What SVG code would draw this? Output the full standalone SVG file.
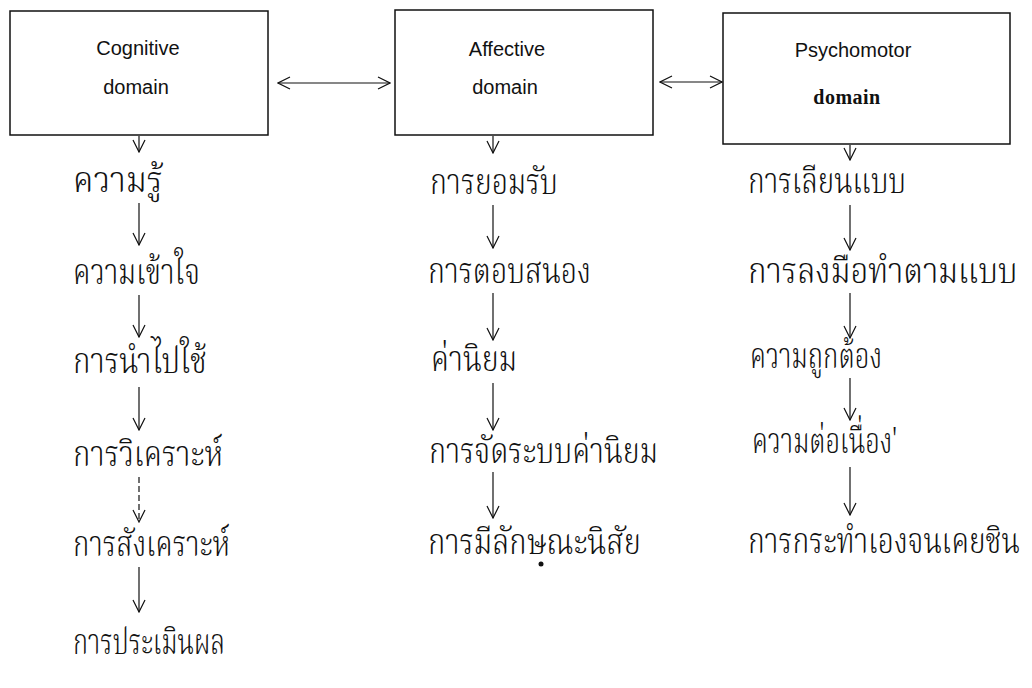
<svg xmlns="http://www.w3.org/2000/svg" width="1032" height="688" viewBox="0 0 1032 688">
<style>
.box{fill:#fff;stroke:#111;stroke-width:1.5}
.en{font-family:'Liberation Sans',Arial,sans-serif;font-size:20px;fill:#111;text-anchor:middle}
.enb{font-family:'Liberation Serif','Times New Roman',serif;font-size:20px;font-weight:bold;fill:#111;text-anchor:middle;letter-spacing:0.5px}
.th{font-family:'Noto Serif Thai','Noto Sans Thai','Norasi','Garuda','Loma','Liberation Serif',serif;font-size:36px;font-weight:300;fill:#111}
.ln{fill:none;stroke:#111;stroke-width:1.2}
</style>
<defs>
<marker id="ah" viewBox="0 0 14 14" refX="13" refY="7" markerWidth="14" markerHeight="14" markerUnits="userSpaceOnUse" orient="auto-start-reverse">
<path d="M1,1 L13,7 L1,13" fill="none" stroke="#111" stroke-width="1.2"/>
</marker>
</defs>
<rect width="1032" height="688" fill="#fff"/>
<g id="node-cognitive">
<rect class="box" x="10" y="11" width="258" height="124"/>
<text class="en" x="138" y="55">Cognitive</text>
<text class="en" x="136" y="94">domain</text>
</g>
<g id="node-affective">
<rect class="box" x="395" y="10" width="258" height="125"/>
<text class="en" x="507" y="56">Affective</text>
<text class="en" x="505" y="94">domain</text>
</g>
<g id="node-psychomotor">
<rect class="box" x="723" y="13" width="287" height="131"/>
<text class="en" x="853" y="57">Psychomotor</text>
<text class="enb" x="847" y="104">domain</text>
</g>
<g id="col-cognitive">
<text class="th" x="73" y="192" textLength="90" lengthAdjust="spacingAndGlyphs">ความรู้</text>
<text class="th" x="73" y="284" textLength="127" lengthAdjust="spacingAndGlyphs">ความเข้าใจ</text>
<text class="th" x="73" y="373" textLength="134" lengthAdjust="spacingAndGlyphs">การนำไปใช้</text>
<text class="th" x="73" y="466" textLength="150" lengthAdjust="spacingAndGlyphs">การวิเคราะห์</text>
<text class="th" x="73" y="556" textLength="157" lengthAdjust="spacingAndGlyphs">การสังเคราะห์</text>
<text class="th" x="73" y="654" textLength="152" lengthAdjust="spacingAndGlyphs">การประเมินผล</text>
</g>
<g id="col-affective">
<text class="th" x="430" y="194" textLength="128" lengthAdjust="spacingAndGlyphs">การยอมรับ</text>
<text class="th" x="428" y="283" textLength="163" lengthAdjust="spacingAndGlyphs">การตอบสนอง</text>
<text class="th" x="431" y="371" textLength="86" lengthAdjust="spacingAndGlyphs">ค่านิยม</text>
<text class="th" x="429" y="463" textLength="229" lengthAdjust="spacingAndGlyphs">การจัดระบบค่านิยม</text>
<text class="th" x="428" y="554" textLength="213" lengthAdjust="spacingAndGlyphs">การมีลักษณะนิสัย</text>
<circle cx="541" cy="564" r="2.5" fill="#111"/>
</g>
<g id="col-psychomotor">
<text class="th" x="748" y="193" textLength="158" lengthAdjust="spacingAndGlyphs">การเลียนแบบ</text>
<text class="th" transform="translate(748,283) scale(0.8,1)" x="0" y="0" textLength="337" lengthAdjust="spacingAndGlyphs">การลงมือทำตามแบบ</text>
<text class="th" x="750" y="368" textLength="132" lengthAdjust="spacingAndGlyphs">ความถูกต้อง</text>
<text class="th" x="752" y="453" textLength="145" lengthAdjust="spacingAndGlyphs">ความต่อเนื่อง'</text>
<text class="th" transform="translate(748,553) scale(0.8,1)" x="0" y="0" textLength="340" lengthAdjust="spacingAndGlyphs">การกระทำเองจนเคยชิน</text>
</g>
<g id="connectors">
<line class="ln" x1="278" y1="83" x2="390" y2="83" marker-start="url(#ah)" marker-end="url(#ah)"/>
<line class="ln" x1="660" y1="82" x2="722" y2="82" marker-start="url(#ah)" marker-end="url(#ah)"/>
<line class="ln" x1="139" y1="136" x2="139" y2="152" marker-end="url(#ah)"/>
<line class="ln" x1="139" y1="203" x2="139" y2="245" marker-end="url(#ah)"/>
<line class="ln" x1="139" y1="295" x2="139" y2="337" marker-end="url(#ah)"/>
<line class="ln" x1="139" y1="387" x2="139" y2="430" marker-end="url(#ah)"/>
<line class="ln" x1="139" y1="477" x2="139" y2="522" marker-end="url(#ah)" stroke-dasharray="6 3"/>
<line class="ln" x1="139" y1="567" x2="139" y2="612" marker-end="url(#ah)"/>
<line class="ln" x1="493" y1="136" x2="493" y2="153" marker-end="url(#ah)"/>
<line class="ln" x1="493" y1="205" x2="493" y2="248" marker-end="url(#ah)"/>
<line class="ln" x1="493" y1="293" x2="493" y2="340" marker-end="url(#ah)"/>
<line class="ln" x1="493" y1="383" x2="493" y2="430" marker-end="url(#ah)"/>
<line class="ln" x1="493" y1="472" x2="493" y2="518" marker-end="url(#ah)"/>
<line class="ln" x1="850" y1="145" x2="850" y2="160" marker-end="url(#ah)"/>
<line class="ln" x1="850" y1="205" x2="850" y2="250" marker-end="url(#ah)"/>
<line class="ln" x1="850" y1="293" x2="850" y2="338" marker-end="url(#ah)"/>
<line class="ln" x1="850" y1="378" x2="850" y2="420" marker-end="url(#ah)"/>
<line class="ln" x1="850" y1="467" x2="850" y2="515" marker-end="url(#ah)"/>
</g>
</svg>
